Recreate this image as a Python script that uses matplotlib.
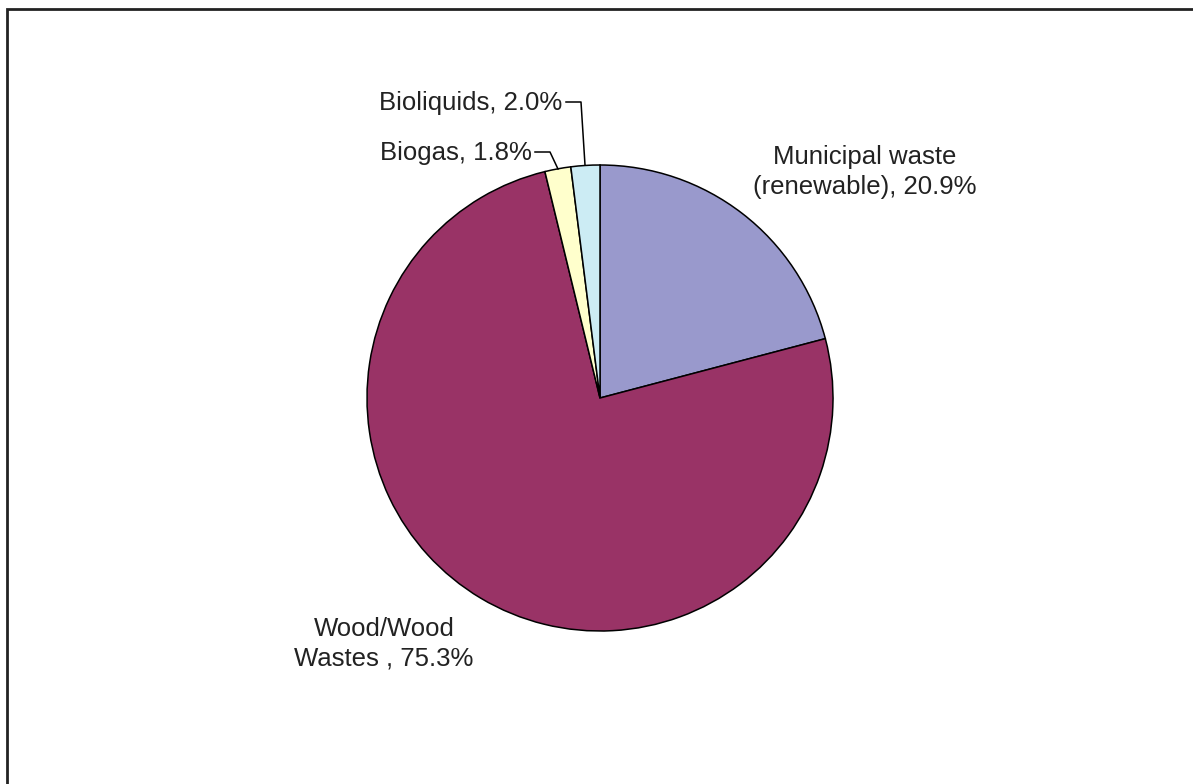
import matplotlib.pyplot as plt
from matplotlib.patches import Rectangle

plt.rcParams['font.family'] = ['Liberation Sans', 'DejaVu Sans']

labels = ['Municipal waste\n(renewable)', 'Wood/Wood\nWastes ', 'Biogas', 'Bioliquids']
shares = [20.9, 75.3, 1.8, 2.0]
colors = ['#9999CC', '#993366', '#FFFFCC', '#CCECF4']

W, H = 1193, 784
fig = plt.figure(figsize=(W / 100, H / 100), dpi=100)
ax = fig.add_axes([0, 0, 1, 1])

cx, cy, r = 600, H - 398, 233
wedges, _ = ax.pie(shares, colors=colors, startangle=90, counterclock=False,
                   center=(cx, cy), radius=r, frame=True,
                   wedgeprops=dict(edgecolor='black', linewidth=1.1))
ax.set_xlim(0, W)
ax.set_ylim(0, H)
ax.axis('off')

txt = dict(fontsize=18.5, color='#222222')

def lab(i):
    return f'{labels[i]}, {shares[i]:.1f}%'

# big slices: plain labels
ax.text(865, H - 172, lab(0), ha='center', va='center', linespacing=1.3, **txt)
ax.text(384, H - 644, lab(1), ha='center', va='center', linespacing=1.3, **txt)

# small slices: labels with elbow leader lines
ax.text(532, H - 153, lab(2), ha='right', va='center', **txt)
ax.plot([535, 550, 558], [H - 152, H - 152, H - 169], color='black', lw=1.1)
ax.text(562, H - 103, lab(3), ha='right', va='center', **txt)
ax.plot([566, 581, 585], [H - 102, H - 102, H - 165], color='black', lw=1.1)

# outer frame
fig.patches.append(Rectangle((7.5 / W, -0.1), 1.2, 1.1 - 9 / H, transform=fig.transFigure,
                             fill=False, edgecolor='#222222', linewidth=2))

fig.savefig('out.png', dpi=100)
